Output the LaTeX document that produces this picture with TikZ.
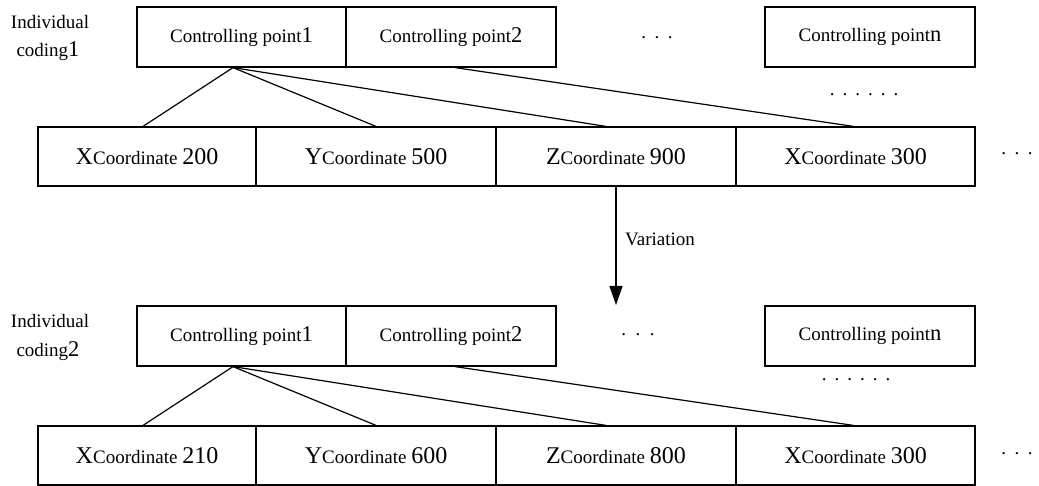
\documentclass[tikz,border=0pt]{standalone}
\usepackage{fontspec}
\setmainfont{Liberation Serif}
\usetikzlibrary{arrows.meta}
\newcommand{\bgl}[1]{{\fontsize{24}{24}\selectfont #1}}
\newcommand{\bigd}[1]{{\fontsize{22.5}{22.5}\selectfont #1}}
\newcommand{\smf}{\fontsize{19}{21}\selectfont}
\begin{document}
\begin{tikzpicture}[x=1pt,y=-1pt,
  cpbox/.style={draw, line width=1.2pt, minimum height=60pt, inner sep=0pt, font=\smf, anchor=center},
  cobox/.style={draw, line width=1.2pt, minimum height=59pt, inner sep=0pt, font=\smf, anchor=center},
  conn/.style={line width=1.2pt},
  arr/.style={line width=1.2pt, -{Triangle[length=19pt,width=13pt]}},
  lbl/.style={font=\smf, inner sep=0pt, anchor=base},
  dotrow/.style={font=\smf, inner sep=0pt, anchor=base}]
\useasboundingbox (0,0) rectangle (1039,486);

% ---------- block 1 ----------
\node[lbl] (ind1a) at (50,29) {Individual};
\node[lbl] (ind1b) at (48,57) {coding\bigd{1}};

\node[cpbox, minimum width=209pt] (c1) at (241.5,37) {Controlling point\bigd{1}};
\node[cpbox, minimum width=210pt] (c2) at (451,37) {Controlling point\bigd{2}};
\node[cpbox, minimum width=210pt] (cn) at (870,37) {Controlling point\bigd{n}};

\node[cobox, minimum width=218pt] (x1) at (147,156.5) {\bgl{X}Coordinate \bgl{200}};
\node[cobox, minimum width=240pt] (y1) at (376,156.5) {\bgl{Y}Coordinate \bgl{500}};
\node[cobox, minimum width=240pt] (z1) at (616,156.5) {\bgl{Z}Coordinate \bgl{900}};
\node[cobox, minimum width=239pt] (w1) at (855.5,156.5) {\bgl{X}Coordinate \bgl{300}};

\node[dotrow] (d1a) at (657,39) {.\hspace{8.5pt}.\hspace{8.5pt}.};
\node[dotrow] (d1b) at (864,96) {.\hspace{8pt}.\hspace{8pt}.\hspace{8pt}.\hspace{8pt}.\hspace{8pt}.};
\node[dotrow] (d1c) at (1017,155) {.\hspace{8.5pt}.\hspace{8.5pt}.};

\draw[conn] ([xshift=-8.5pt]c1.south) -- ([xshift=-4pt]x1.north);
\draw[conn] ([xshift=-8.5pt]c1.south) -- (y1.north);
\draw[conn] ([xshift=-8.5pt]c1.south) -- ([xshift=-10pt]z1.north);
\draw[conn] ([xshift=4pt]c2.south) -- ([xshift=-2pt]w1.north);

% ---------- variation ----------
\coordinate (arrend) at (616,305);
\draw[arr] (z1.south) -- (arrend);
\node[font=\smf, inner sep=0pt, anchor=west] (var) at (625,239) {Variation};

% ---------- block 2 ----------
\node[lbl] (ind2a) at (50,328) {Individual};
\node[lbl] (ind2b) at (48,356) {coding\bigd{2}};

\node[cpbox, minimum width=209pt] (e1) at (241.5,336) {Controlling point\bigd{1}};
\node[cpbox, minimum width=210pt] (e2) at (451,336) {Controlling point\bigd{2}};
\node[cpbox, minimum width=210pt] (en) at (870,336) {Controlling point\bigd{n}};

\node[cobox, minimum width=218pt] (x2) at (147,455.5) {\bgl{X}Coordinate \bgl{210}};
\node[cobox, minimum width=240pt] (y2) at (376,455.5) {\bgl{Y}Coordinate \bgl{600}};
\node[cobox, minimum width=240pt] (z2) at (616,455.5) {\bgl{Z}Coordinate \bgl{800}};
\node[cobox, minimum width=239pt] (w2) at (855.5,455.5) {\bgl{X}Coordinate \bgl{300}};

\node[dotrow] (d2a) at (638,335) {.\hspace{9.5pt}.\hspace{9.5pt}.};
\node[dotrow] (d2b) at (856,381) {.\hspace{8pt}.\hspace{8pt}.\hspace{8pt}.\hspace{8pt}.\hspace{8pt}.};
\node[dotrow] (d2c) at (1017,454) {.\hspace{8.5pt}.\hspace{8.5pt}.};

\draw[conn] ([xshift=-8.5pt]e1.south) -- ([xshift=-4pt]x2.north);
\draw[conn] ([xshift=-8.5pt]e1.south) -- (y2.north);
\draw[conn] ([xshift=-8.5pt]e1.south) -- ([xshift=-10pt]z2.north);
\draw[conn] ([xshift=4pt]e2.south) -- ([xshift=-2pt]w2.north);
\end{tikzpicture}
\end{document}
